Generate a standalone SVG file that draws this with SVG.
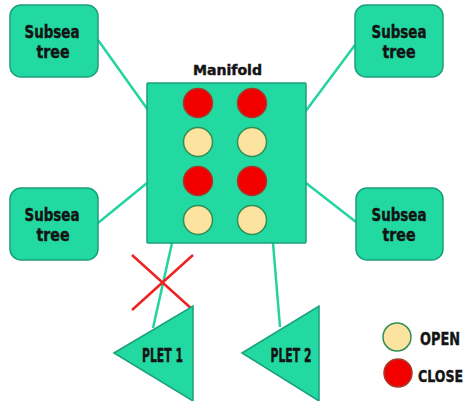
<svg xmlns="http://www.w3.org/2000/svg" width="469" height="401" viewBox="0 0 469 401">
  <style>
    .box { fill: #22d9a2; stroke: #1c9f7c; stroke-width: 1.5; }
    .link { stroke: #22d4a0; stroke-width: 2.5; fill: none; }
    .lbl { font-family: "DejaVu Sans Condensed", "DejaVu Sans", "Liberation Sans", sans-serif; font-weight: bold; fill: #141414; stroke: #141414; stroke-width: 0.4; }
    .open { fill: #fde3a0; stroke: #2f8f55; stroke-width: 1.5; }
    .close { fill: #f20000; stroke: #a53a2a; stroke-width: 1.5; }
    .cross { stroke: #ee2222; stroke-width: 2.5; }
  </style>
  <rect width="469" height="401" fill="#ffffff"/>

  <!-- connectors -->
  <g id="connectors">
    <line class="link" x1="98" y1="40" x2="148" y2="110"/>
    <line class="link" x1="305" y1="112" x2="355" y2="45"/>
    <line class="link" x1="98" y1="223" x2="147" y2="183"/>
    <line class="link" x1="306" y1="183" x2="356" y2="222"/>
    <line class="link" x1="172" y1="243" x2="153" y2="328"/>
    <line class="link" x1="273" y1="243" x2="280" y2="327"/>
  </g>

  <!-- blocked line marker -->
  <g id="blocked">
    <line class="cross" x1="132" y1="255" x2="193" y2="310"/>
    <line class="cross" x1="193" y1="255" x2="132" y2="310"/>
  </g>

  <g id="tree-top-left">
    <rect class="box" x="10" y="5" width="88" height="72" rx="11"/>
    <text class="lbl" x="52" y="38" font-size="17" text-anchor="middle" textLength="55" lengthAdjust="spacingAndGlyphs">Subsea</text>
    <text class="lbl" x="53" y="58" font-size="17" text-anchor="middle" textLength="33" lengthAdjust="spacingAndGlyphs">tree</text>
  </g>
  <g id="tree-top-right">
    <rect class="box" x="355" y="5" width="88" height="72" rx="11"/>
    <text class="lbl" x="399" y="38" font-size="17" text-anchor="middle" textLength="55" lengthAdjust="spacingAndGlyphs">Subsea</text>
    <text class="lbl" x="399" y="58" font-size="17" text-anchor="middle" textLength="33" lengthAdjust="spacingAndGlyphs">tree</text>
  </g>
  <g id="tree-bottom-left">
    <rect class="box" x="10" y="188" width="88" height="72" rx="11"/>
    <text class="lbl" x="52" y="221" font-size="17" text-anchor="middle" textLength="55" lengthAdjust="spacingAndGlyphs">Subsea</text>
    <text class="lbl" x="53" y="241" font-size="17" text-anchor="middle" textLength="33" lengthAdjust="spacingAndGlyphs">tree</text>
  </g>
  <g id="tree-bottom-right">
    <rect class="box" x="356" y="188" width="87" height="72" rx="11"/>
    <text class="lbl" x="399" y="221" font-size="17" text-anchor="middle" textLength="55" lengthAdjust="spacingAndGlyphs">Subsea</text>
    <text class="lbl" x="399" y="241" font-size="17" text-anchor="middle" textLength="33" lengthAdjust="spacingAndGlyphs">tree</text>
  </g>

  <g id="manifold">
    <text class="lbl" x="227.5" y="75" font-size="14" text-anchor="middle" textLength="69" lengthAdjust="spacingAndGlyphs">Manifold</text>
    <rect class="box" x="147" y="83" width="159" height="160" rx="1"/>
    <circle class="close" cx="198" cy="103" r="14.5"/>
    <circle class="close" cx="252" cy="103" r="14.5"/>
    <circle class="open" cx="198" cy="142" r="14.5"/>
    <circle class="open" cx="252" cy="142" r="14.5"/>
    <circle class="close" cx="198" cy="181" r="14.5"/>
    <circle class="close" cx="252" cy="181" r="14.5"/>
    <circle class="open" cx="198" cy="220" r="14.5"/>
    <circle class="open" cx="252" cy="220" r="14.5"/>
  </g>

  <g id="plet-1">
    <polygon class="box" points="114,353 193,306 193,401"/>
    <text class="lbl" x="162.5" y="362" font-size="19" text-anchor="middle" textLength="41" lengthAdjust="spacingAndGlyphs">PLET 1</text>
  </g>
  <g id="plet-2">
    <polygon class="box" points="242,353 319,306 319,401"/>
    <text class="lbl" x="291" y="362" font-size="19" text-anchor="middle" textLength="41" lengthAdjust="spacingAndGlyphs">PLET 2</text>
  </g>

  <g id="legend">
    <circle class="open" cx="397" cy="337" r="14"/>
    <text class="lbl" x="420" y="345" font-size="18" textLength="40" lengthAdjust="spacingAndGlyphs">OPEN</text>
    <circle class="close" cx="398" cy="373" r="14"/>
    <text class="lbl" x="418" y="382" font-size="16" textLength="45" lengthAdjust="spacingAndGlyphs">CLOSE</text>
  </g>
</svg>
